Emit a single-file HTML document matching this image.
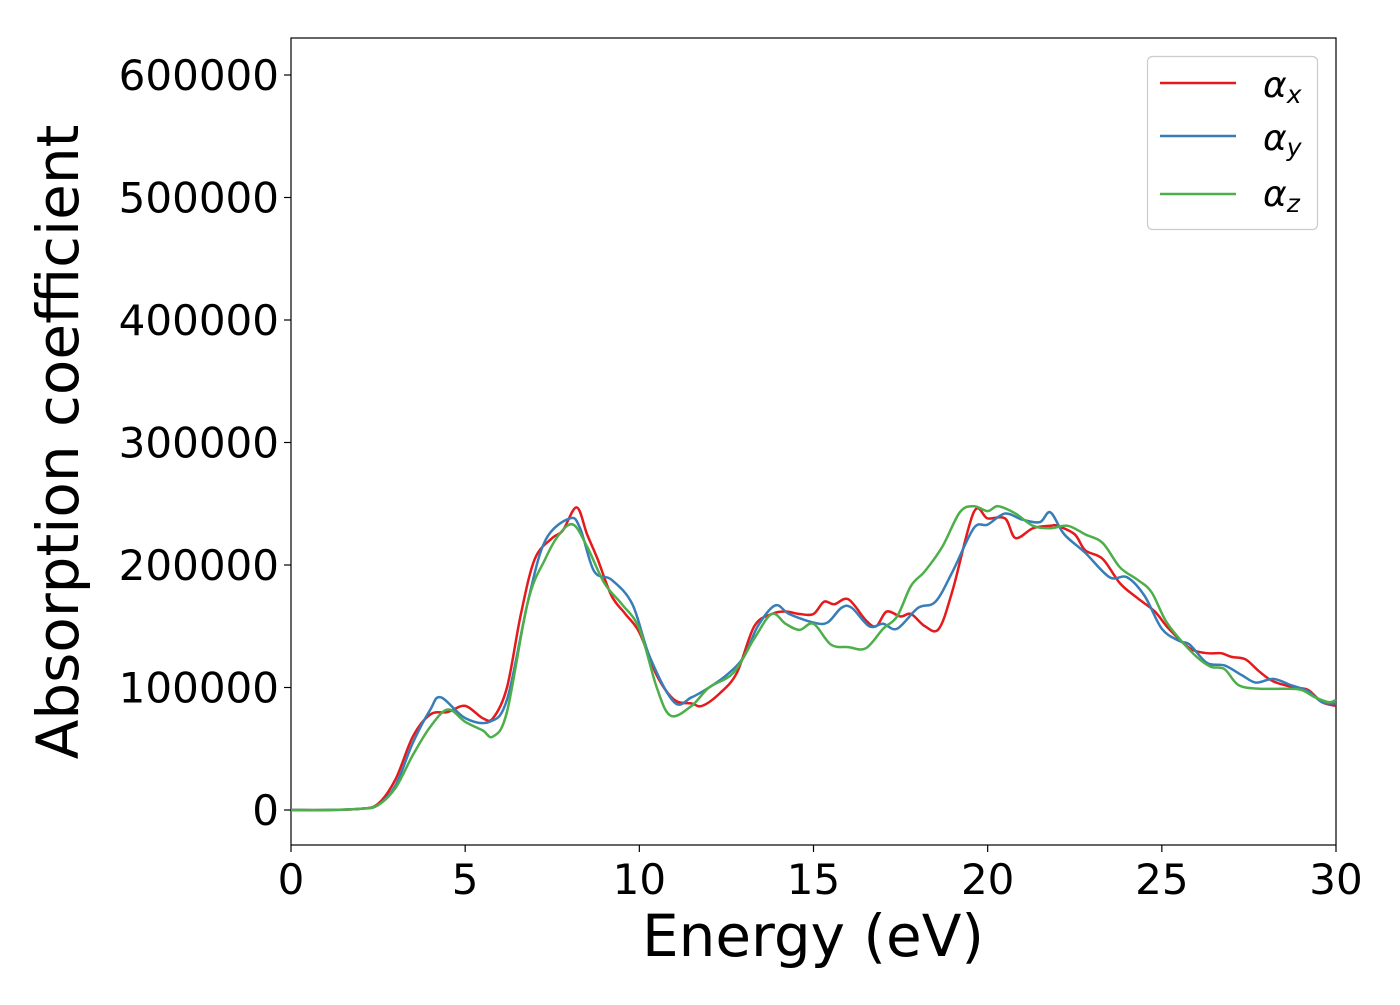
<!DOCTYPE html>
<html><head><meta charset="utf-8"><style>
body{margin:0;background:#fff;}
svg{font-family:"DejaVu Sans","Liberation Sans",sans-serif;}
</style></head><body>
<svg id="chart" width="1400" height="1000">
<rect x="291" y="38" width="1045" height="807" fill="#fff" stroke="#000" stroke-width="1.2"/>
<g id="ticks"></g>
<g id="series"></g>
<text x="813" y="956" font-size="58" text-anchor="middle">Energy (eV)</text>
<text transform="translate(78,442) rotate(-90)" font-size="58" text-anchor="middle">Absorption coefficient</text>
<g>
<rect x="1147.5" y="56.5" width="170" height="173" rx="5" fill="#fff" stroke="#ccc" stroke-width="1.2"/>
<line x1="1160" y1="83" x2="1236" y2="83" stroke="#e41a1c" stroke-width="2.5"/>
<text x="1263" y="97" font-size="36" font-style="italic">α<tspan font-size="25" dy="6">x</tspan></text>
<line x1="1160" y1="136" x2="1236" y2="136" stroke="#377eb8" stroke-width="2.5"/>
<text x="1263" y="150" font-size="36" font-style="italic">α<tspan font-size="25" dy="6">y</tspan></text>
<line x1="1160" y1="194" x2="1236" y2="194" stroke="#4daf4a" stroke-width="2.5"/>
<text x="1263" y="206" font-size="36" font-style="italic">α<tspan font-size="25" dy="6">z</tspan></text>
</g>
</svg>
<script>
const xTicks=[0,5,10,15,20,25,30];
const yTicks=[0,100000,200000,300000,400000,500000,600000];
const xE=[0,1,2,2.5,3,3.5,4,4.5,5,5.5,5.8,6.2,6.6,7,7.5,7.8,8.2,8.5,8.8,9.2,9.6,10,10.5,11,11.5,11.8,12.3,12.8,13.3,13.8,14.2,14.6,15,15.3,15.6,16,16.5,16.8,17.1,17.5,17.8,18.2,18.6,19,19.6,20,20.5,20.8,21.3,21.8,22,22.5,22.8,23.3,23.8,24.3,24.8,25.2,25.8,26.3,26.7,27,27.4,27.8,28.2,28.8,29.2,29.6,30];
const xV=[0,0,1000,5000,25000,60000,78000,80000,85000,75000,75000,100000,160000,205000,222000,228000,247000,225000,205000,175000,160000,145000,110000,90000,87000,85000,95000,112000,150000,160000,162000,160000,160000,170000,168000,172000,155000,150000,162000,158000,160000,150000,148000,180000,243000,238000,238000,222000,230000,232000,232000,225000,212000,205000,185000,173000,162000,148000,132000,128000,128000,125000,123000,113000,105000,100000,98000,88000,85000];
const yE=[0,1,2,2.5,3,3.5,4,4.3,5,5.7,6.2,6.8,7.3,8,8.3,8.7,9.2,9.8,10.3,11,11.5,12,12.5,13,13.4,13.9,14.3,15,15.4,15.8,16.1,16.6,17,17.4,18,18.5,19,19.6,20,20.5,21,21.5,21.8,22.2,22.8,23.5,24,24.5,25,25.5,25.8,26.3,26.8,27.3,27.7,28.2,28.7,29.2,29.6,30];
const yV=[0,0,1000,4000,20000,55000,82000,92000,75000,72000,90000,170000,220000,238000,230000,195000,188000,168000,125000,88000,92000,100000,110000,125000,150000,167000,160000,153000,153000,165000,165000,150000,152000,148000,165000,170000,195000,230000,233000,242000,237000,235000,243000,225000,210000,190000,190000,175000,148000,138000,135000,120000,118000,110000,104000,107000,102000,97000,88000,87000];
const zE=[0,1,2,2.5,3,3.5,4,4.5,5,5.5,5.8,6.2,6.8,7.3,7.7,8.1,8.5,9,9.5,10,10.5,10.9,11.5,12,12.7,13.3,13.8,14.2,14.6,15,15.5,16,16.5,17,17.4,17.8,18.2,18.7,19.2,19.6,20,20.3,20.8,21.3,21.8,22.3,22.8,23.3,23.8,24.3,24.7,25.1,25.5,26,26.4,26.8,27.2,27.8,28.5,29,29.4,29.8,30];
const zV=[0,0,1000,4000,18000,45000,68000,82000,72000,65000,60000,80000,170000,205000,225000,233000,215000,185000,168000,148000,100000,77000,85000,100000,112000,140000,160000,152000,147000,152000,135000,133000,132000,148000,158000,183000,195000,215000,243000,248000,244000,248000,242000,232000,230000,232000,225000,218000,198000,188000,178000,155000,140000,125000,117000,115000,102000,99000,99000,98000,92000,88000,90000];
const X=v=>291+v*1045/30, Y=v=>810-v*735/600000;
const NS="http://www.w3.org/2000/svg";
const tg=document.getElementById('ticks');
function mk(tag,a,p){const e=document.createElementNS(NS,tag);for(const k in a)e.setAttribute(k,a[k]);p.appendChild(e);return e;}
xTicks.forEach(t=>{const l=mk('line',{x1:X(t),x2:X(t),y1:845,y2:852,stroke:'#000','stroke-width':1.2},tg);


const s=mk('text',{x:X(t),y:894,'font-size':42,'text-anchor':'middle'},tg);s.textContent=t;

});
yTicks.forEach(t=>{const l=mk('line',{x1:284,x2:291,y1:Y(t),y2:Y(t),stroke:'#000','stroke-width':1.2},tg);


const s=mk('text',{x:279,y:Y(t)+15,'font-size':42,'text-anchor':'end'},tg);s.textContent=t;

});
function path(E,V){const p=E.map((e,i)=>[X(e),Y(V[i])]);let d='M'+p[0][0]+','+p[0][1];
for(let i=0;i<p.length-1;i++){const p0=p[i-1]||p[i],p1=p[i],p2=p[i+1],p3=p[i+2]||p2;
d+=' C'+(p1[0]+(p2[0]-p0[0])/6)+','+(p1[1]+(p2[1]-p0[1])/6)+' '+(p2[0]-(p3[0]-p1[0])/6)+','+(p2[1]-(p3[1]-p1[1])/6)+' '+p2[0]+','+p2[1];}return d;}
const sg=document.getElementById('series');
[[xE,xV,'#e41a1c','series-alpha-x'],[yE,yV,'#377eb8','series-alpha-y'],[zE,zV,'#4daf4a','series-alpha-z']].forEach(s=>{
const e=mk('path',{d:path(s[0],s[1]),fill:'none',stroke:s[2],'stroke-width':2.5},sg);

});
</script>
</body></html>
